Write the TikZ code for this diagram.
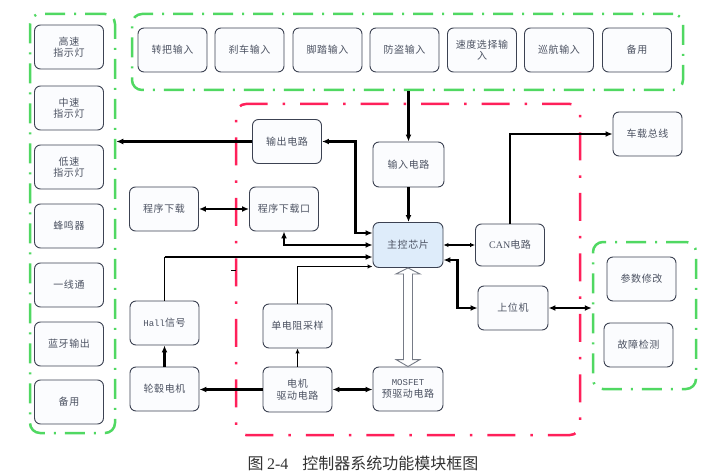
\documentclass[tikz,border=0pt]{standalone}
\usepackage{fontspec}
\setmainfont{Noto Sans CJK SC}
\newfontfamily\boxfont[LetterSpace=6]{Noto Sans CJK SC}
\newfontfamily\serifpart{Liberation Serif}
\newfontfamily\monopart{Liberation Mono}
\usepackage{tikz}
\usetikzlibrary{arrows.meta, calc}

\definecolor{boxline}{RGB}{60,66,82}
\definecolor{boxfill}{RGB}{251,252,254}
\definecolor{chipfill}{RGB}{222,236,250}
\definecolor{textgray}{RGB}{76,82,98}
\definecolor{grpgreen}{RGB}{80,216,98}
\definecolor{grpred}{RGB}{255,32,90}

\tikzset{
  module/.style = {draw = boxline, fill = boxfill, rounded corners = 6pt, line width = 0.9pt,
    minimum width = 69pt, minimum height = 44pt, inner sep = 1pt, align = center,
    text = textgray, font = \boxfont\fontsize{10}{11.5}\selectfont},
  greengroup/.style = {draw = grpgreen, line width = 2.5pt, rounded corners = 10pt,
    dash pattern = on 20pt off 9pt on 2pt off 9pt},
  redgroup/.style = {draw = grpred, line width = 2.5pt, rounded corners = 10pt,
    dash pattern = on 28pt off 15pt on 2.5pt off 15pt},
  heavy/.style = {line width = 2.4pt},
  light/.style = {line width = 1.1pt, >={Latex[length=5pt, width=4.5pt]}},
  hollow/.style = {draw = boxline!70, fill = white, line width = 0.9pt, line join = miter}
}

\begin{document}
\begin{tikzpicture}[x = 1pt, y = -1pt, >={Latex[length=7pt, width=6pt]}]
\useasboundingbox (0,0) rectangle (720,473);

\node[greengroup, minimum width = 85pt, minimum height = 419pt] (leftgrp) at (72.5,223.5) {};
\node[greengroup, minimum width = 551pt, minimum height = 76pt] (topgrp) at (407.5,52) {};
\node[redgroup, minimum width = 344pt, minimum height = 331pt] (redgrp) at (408,269.5) {};
\node[greengroup, minimum width = 103pt, minimum height = 147pt] (rightgrp) at (644.5,315.5) {};

% left column
\node[module] (hi) at (69,47) {高速\\指示灯};
\node[module] (mid) at (69,108) {中速\\指示灯};
\node[module] (lo) at (69,167) {低速\\指示灯};
\node[module] (buzz) at (69,226) {蜂鸣器};
\node[module] (wire) at (69,285) {一线通};
\node[module] (bt) at (69,344) {蓝牙输出};
\node[module] (spareL) at (69,402) {备用};

% top row
\node[module] (handle) at (172.5,50) {转把输入};
\node[module] (brake) at (249.5,50) {刹车输入};
\node[module] (pedal) at (327.5,50) {脚踏输入};
\node[module] (theft) at (404.5,50) {防盗输入};
\node[module] (speedsel) at (482,50) {速度选择输\\入};
\node[module] (cruise) at (559,50) {巡航输入};
\node[module] (spareT) at (637,50) {备用};

% controller
\node[module] (out) at (287,141.5) {输出电路};
\node[module] (dl) at (164,209) {程序下载};
\node[module] (port) at (284,209) {程序下载口};
\node[module, minimum width = 71pt, minimum height = 45pt] (in) at (408.5,164.5) {输入电路};
\node[module, fill = chipfill, minimum width = 70pt, minimum height = 45pt] (mcu) at (408,245) {主控芯片};
\node[module, minimum height = 42pt] (can) at (510,245) {{\serifpart CAN}电路};
\node[module] (bus) at (647.5,134) {车载总线};
\node[module, minimum width = 70pt] (pc) at (513,308) {上位机};
\node[module, minimum width = 70pt] (mos) at (408,389) {{\monopart\fontsize{9}{11.5}\selectfont MOSFET}\\预驱动电路};
\node[module, minimum height = 45pt] (drv) at (297.5,389.5) {电机\\驱动电路};
\node[module] (samp) at (297.5,326) {单电阻采样};
\node[module] (hall) at (164.5,323) {{\monopart\fontsize{9}{11}\selectfont Hall}信号};
\node[module] (motor) at (164.5,389) {轮毂电机};
\node[module] (para) at (641.5,279) {参数修改};
\node[module] (fault) at (638.5,345) {故障检测};

\coordinate (mcuin1) at ($(mcu.west)+(0,-12)$);
\coordinate (mcuin3) at ($(mcu.west)+(0,12)$);
\coordinate (mcuin4) at ($(mcu.west)+(0,21.5)$);
\coordinate (mcuout) at ($(mcu.east)+(0,15)$);

\draw[heavy, ->] (out.west) -- (out.west -| leftgrp.east);
\draw[heavy, <->] (mcuin1) -- ++(-17,0) |- (out.east);
\draw[heavy, <->] (port.south) |- (mcu.west);
\draw[light] (hall.north) -- (hall.north |- mcuin3);
\draw[heavy, ->] (hall.north |- mcuin3) -- (mcuin3);
\draw[light, ->] (samp.north) |- (mcuin4);
\draw[heavy, ->] (in.north |- topgrp.south) -- (in.north);
\draw[heavy, ->] (in.south) -- (in.south |- mcu.north);
\draw[light, <->] (mcu.east) -- (can.west);
\draw[heavy, ->] (can.north) |- (bus.west);
\draw[heavy, <->] (mcuout) -- ++(14,0) |- (pc.west);
\draw[heavy, <->] (pc.east) -- (pc.east -| rightgrp.west);
\draw[heavy, <->] (drv.east) -- (drv.east -| mos.west);
\draw[heavy, ->] (drv.west) -- (drv.west -| motor.east);
\draw[light, ->] (drv.north) -- (samp.south);
\draw[heavy, ->] (motor.north) -- (hall.south);
\draw[heavy, <->] (dl.east) -- (port.west);
\draw[hollow] (mcu.south) -- ++(12,6) -- ++(-7.5,0) -- ($(mos.north)+(4.5,-7)$) -- ++(7.5,0)
  -- (mos.north) -- ++(-12,-7) -- ++(7.5,0) -- ($(mcu.south)+(-4.5,6)$) -- ++(-7.5,0) -- cycle;
\draw[line width = 0.8pt] (231,270) -- (236,270);

\node[anchor = west, font = \fontsize{16}{18}\selectfont, text = black!80] (caption) at (244,463)
  {图 {\serifpart 2-4}\hspace{14pt}控制器系统功能模块框图};
\end{tikzpicture}
\end{document}
